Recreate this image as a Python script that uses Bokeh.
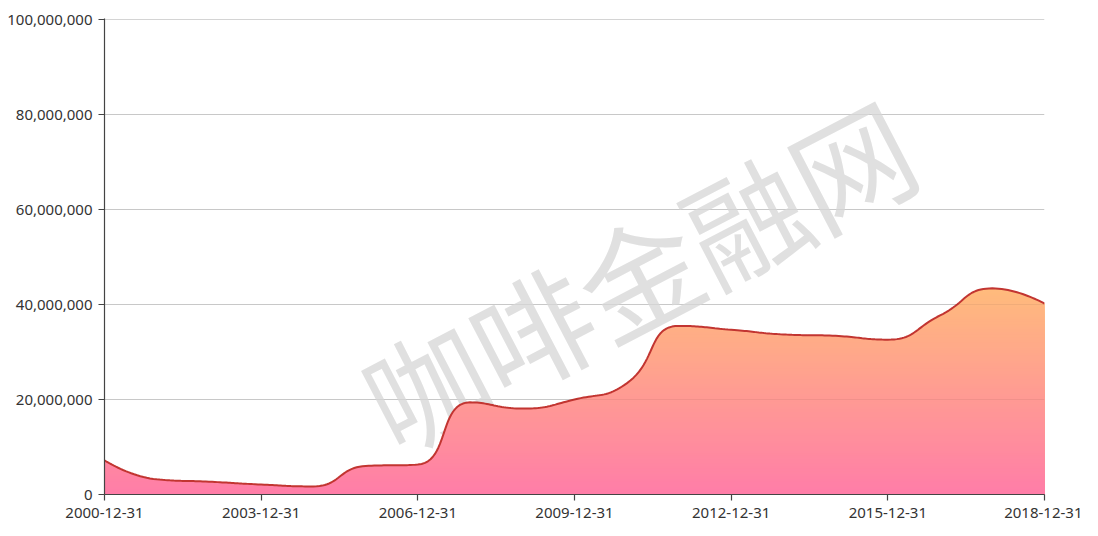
import numpy as np
from bokeh.plotting import figure
from bokeh.models import Range1d, FixedTicker, NumeralTickFormatter, Label, Span
from bokeh.embed import file_html
from bokeh.resources import INLINE

# ---------------- data ----------------
dates = ["2000-12-31", "2001-12-31", "2002-12-31", "2003-12-31", "2004-12-31",
         "2005-12-31", "2006-12-31", "2007-12-31", "2008-12-31", "2009-12-31",
         "2010-12-31", "2011-12-31", "2012-12-31", "2013-12-31", "2014-12-31",
         "2015-12-31", "2016-12-31", "2017-12-31", "2018-12-31"]
values = [7200000, 3200000, 2700000, 2100000, 1700000,
          6000000, 6300000, 19400000, 18100000, 20000000,
          23400000, 35500000, 34700000, 33700000, 33400000,
          32600000, 37700000, 43400000, 40200000]
y_ticks = [0, 20000000, 40000000, 60000000, 80000000, 100000000]
x_tick_idx = [0, 3, 6, 9, 12, 15, 18]
watermark = "咖啡金融网"

# ---------------- geometry / style ----------------
W, H = 1082, 520
B_LEFT, B_RIGHT, B_TOP, B_BOTTOM = 104, 38, 18, 26
Y_MAX = 100000000
X_MAX = len(dates) - 1
frame_w = W - B_LEFT - B_RIGHT
frame_h = H - B_TOP - B_BOTTOM
Y_END = Y_MAX * frame_h / (frame_h - 1)   # keep the top grid line 1px inside the frame
sx = frame_w / X_MAX
sy = frame_h / Y_END

TOP_RGB = np.array([255, 187, 124])
BOT_RGB = np.array([255, 125, 168])
LINE_COLOR = "#c23531"
FONT = "Noto Sans"
CJK_FONT = "Noto Sans CJK SC"

# ---------------- smooth curve (ECharts 5 style bezier, smooth = 0.5) ----------------
xs = np.arange(len(values), dtype=float) * sx
ys = np.array(values, dtype=float) * sy
n = len(xs)
smooth = 0.5
t = np.linspace(0, 1, 25)
px_list, py_list = [xs[0]], [ys[0]]
cpx0, cpy0 = xs[0], ys[0]
for i in range(1, n):
    x, y = xs[i], ys[i]
    prevX, prevY = xs[i - 1], ys[i - 1]
    if i == n - 1:
        cpx1, cpy1 = x, y
        ncx, ncy = x, y
    else:
        nextX, nextY = xs[i + 1], ys[i + 1]
        vx, vy = nextX - prevX, nextY - prevY
        lp = np.hypot(x - prevX, y - prevY)
        ln = np.hypot(nextX - x, nextY - y)
        r = ln / (ln + lp)
        ncx = x + vx * smooth * r
        ncy = y + vy * smooth * r
        ncx = min(ncx, max(nextX, x)); ncy = min(ncy, max(nextY, y))
        ncx = max(ncx, min(nextX, x)); ncy = max(ncy, min(nextY, y))
        vx, vy = ncx - x, ncy - y
        cpx1 = x - vx * lp / ln
        cpy1 = y - vy * lp / ln
        cpx1 = min(cpx1, max(prevX, x)); cpy1 = min(cpy1, max(prevY, y))
        cpx1 = max(cpx1, min(prevX, x)); cpy1 = max(cpy1, min(prevY, y))
        vx, vy = x - cpx1, y - cpy1
        ncx = x + vx * ln / lp
        ncy = y + vy * ln / lp
    bx = (1 - t) ** 3 * prevX + 3 * (1 - t) ** 2 * t * cpx0 + 3 * (1 - t) * t ** 2 * cpx1 + t ** 3 * x
    by = (1 - t) ** 3 * prevY + 3 * (1 - t) ** 2 * t * cpy0 + 3 * (1 - t) * t ** 2 * cpy1 + t ** 3 * y
    px_list.extend(bx[1:]); py_list.extend(by[1:])
    cpx0, cpy0 = ncx, ncy
cx = np.array(px_list) / sx
cy = np.array(py_list) / sy

# ---------------- figure ----------------
p = figure(width=W, height=H, output_backend="svg", toolbar_location=None,
           x_range=Range1d(0, X_MAX), y_range=Range1d(0, Y_END),
           min_border_left=B_LEFT, min_border_right=B_RIGHT,
           min_border_top=B_TOP, min_border_bottom=B_BOTTOM)
p.outline_line_color = None
p.background_fill_color = "white"
p.border_fill_color = "white"

p.xgrid.grid_line_color = None
p.ygrid.ticker = FixedTicker(ticks=y_ticks)
p.ygrid.grid_line_color = "#d4d4d4"
p.ygrid.grid_line_width = 1

# watermark (behind the area)
wm = Label(x=X_MAX * 0.567, y=Y_MAX * 0.468, text=watermark,
           angle=0.48, text_align="center", text_baseline="middle",
           text_font=CJK_FONT, text_font_size="120px",
           text_color="#e0e0e0", level="underlay")
p.add_layout(wm)

# gradient area: stacked opaque bands from the top of the area down to zero
ymax = cy.max()
N = 80
for k in range(N):
    hi = ymax * (1 - k / N)
    frac = (k + 0.5) / N
    rgb = TOP_RGB + (BOT_RGB - TOP_RGB) * frac
    col = "#%02x%02x%02x" % tuple(int(round(c)) for c in rgb)
    p.varea(x=cx, y1=np.zeros_like(cy), y2=np.minimum(cy, hi), fill_color=col, fill_alpha=1.0)

# faint grid lines visible through the area
for yt in y_ticks[1:-1]:
    p.add_layout(Span(location=yt, dimension="width", line_color="black",
                      line_alpha=0.055, line_width=1))

p.line(cx, cy, line_color=LINE_COLOR, line_width=2)

# ---------------- axes ----------------
for ax in (p.xaxis[0], p.yaxis[0]):
    ax.axis_line_color = "#444444"
    ax.axis_line_width = 1.2
    ax.major_tick_line_color = "#444444"
    ax.major_tick_line_width = 1.2
    ax.minor_tick_line_color = None
    ax.major_tick_in = 0
    ax.major_tick_out = 6
    ax.major_label_text_font = FONT
    ax.major_label_text_font_size = "15px"
    ax.major_label_text_color = "#333333"

p.xaxis[0].ticker = FixedTicker(ticks=x_tick_idx)
p.xaxis[0].major_label_overrides = {i: dates[i] for i in x_tick_idx}
p.xaxis[0].major_label_standoff = 7
p.xaxis[0].major_label_text_line_height = 0.6

p.yaxis[0].ticker = FixedTicker(ticks=y_ticks)
p.yaxis[0].formatter = NumeralTickFormatter(format="0,0")
p.yaxis[0].major_label_standoff = 6

open("out.html", "w").write(file_html(p, INLINE))
